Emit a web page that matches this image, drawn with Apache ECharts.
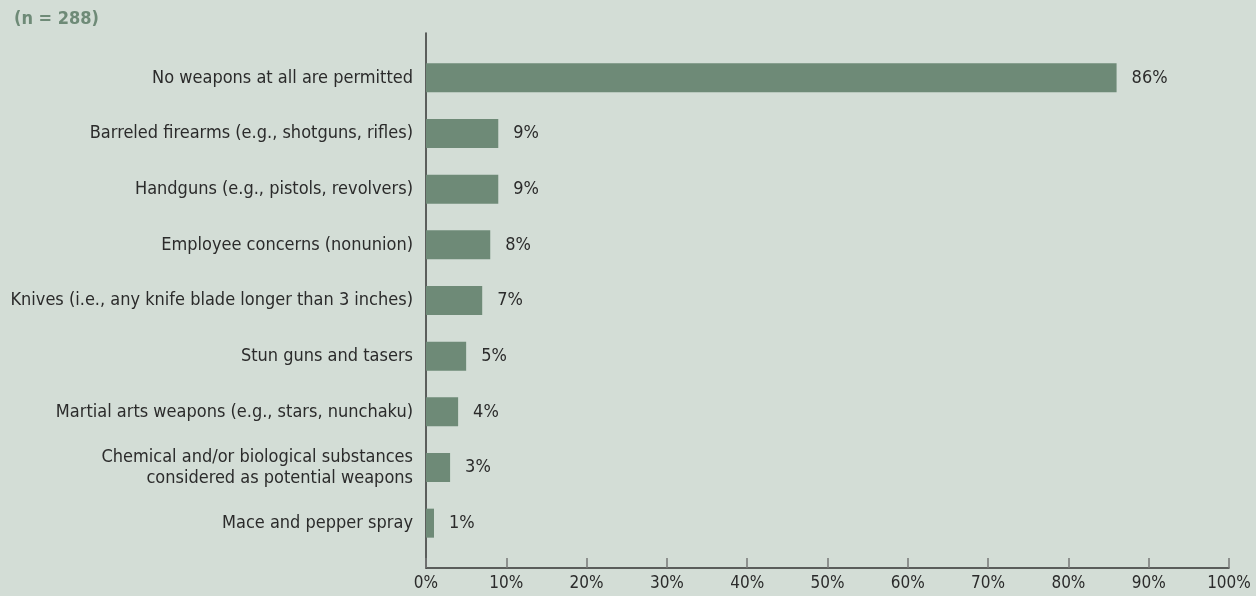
<!DOCTYPE html>
<html>
<head>
<meta charset="utf-8">
<script src="https://cdn.jsdelivr.net/npm/echarts@6/dist/echarts.min.js"></script>
<style>
  html, body { margin: 0; padding: 0; background: #d3ddd6; }
  #chart { width: 1256px; height: 596px; }
</style>
</head>
<body>
<div id="chart"></div>
<script>
// Weapons policy survey responses, percent of respondents
const sampleNote = '(n = 288)';
const categories = [
  'No weapons at all are permitted',
  'Barreled firearms (e.g., shotguns, rifles)',
  'Handguns (e.g., pistols, revolvers)',
  'Employee concerns (nonunion)',
  'Knives (i.e., any knife blade longer than 3 inches)',
  'Stun guns and tasers',
  'Martial arts weapons (e.g., stars, nunchaku)',
  'Chemical and/or biological substances\nconsidered as potential weapons',
  'Mace and pepper spray'
];
const percents = [86, 9, 9, 8, 7, 5, 4, 3, 1];
const axisTicks = [0, 10, 20, 30, 40, 50, 60, 70, 80, 90, 100];

const FONT = "'DejaVu Sans Condensed', 'Liberation Sans', sans-serif";
const TEXT = '#2b2b2b';
const BAR = '#6e8a77';

const chart = echarts.init(document.getElementById('chart'), null, { renderer: 'canvas' });

chart.setOption({
  backgroundColor: '#d3ddd6',
  animation: false,
  textStyle: { fontFamily: FONT },
  title: {
    text: sampleNote,
    left: 9, top: 5,
    textStyle: { fontFamily: FONT, fontSize: 18, fontWeight: 'bold', color: BAR }
  },
  grid: [
    // bars
    { left: 426, right: 27, top: 50, bottom: 45, outerBoundsMode: 'none', containLabel: false },
    // axis frame
    { left: 426, right: 27, top: 33, bottom: 28, outerBoundsMode: 'none', containLabel: false }
  ],
  xAxis: [
    {
      gridIndex: 0, type: 'value', min: 0, max: 100, show: false
    },
    {
      gridIndex: 1, type: 'value', min: axisTicks[0], max: axisTicks[axisTicks.length - 1], interval: 10,
      axisLine: { show: true, lineStyle: { color: '#333', width: 1.5 } },
      axisTick: { show: true, inside: true, length: 10, lineStyle: { color: '#777', width: 1.5 } },
      splitLine: { show: false },
      axisLabel: {
        formatter: '{value}%', color: TEXT, fontSize: 17, fontFamily: FONT, margin: 7,
        showMinLabel: true, showMaxLabel: true
      }
    }
  ],
  yAxis: [
    {
      gridIndex: 0, type: 'category', data: categories, inverse: true,
      axisLine: { show: false }, axisTick: { show: false },
      axisLabel: {
        color: TEXT, fontSize: 18, fontFamily: FONT, margin: 13,
        lineHeight: 21, align: 'right'
      }
    },
    {
      gridIndex: 1, type: 'value', min: 0, max: 1,
      axisLine: { show: true, onZero: false, lineStyle: { color: '#333', width: 1.5 } },
      axisTick: { show: false }, axisLabel: { show: false }, splitLine: { show: false }
    }
  ],
  series: [
    {
      type: 'bar',
      xAxisIndex: 0, yAxisIndex: 0,
      data: percents,
      barWidth: 29,
      itemStyle: { color: BAR },
      label: {
        show: true, position: 'right', distance: 15,
        formatter: '{c}%', color: TEXT, fontSize: 18, fontFamily: FONT
      }
    }
  ]
});
</script>
</body>
</html>
